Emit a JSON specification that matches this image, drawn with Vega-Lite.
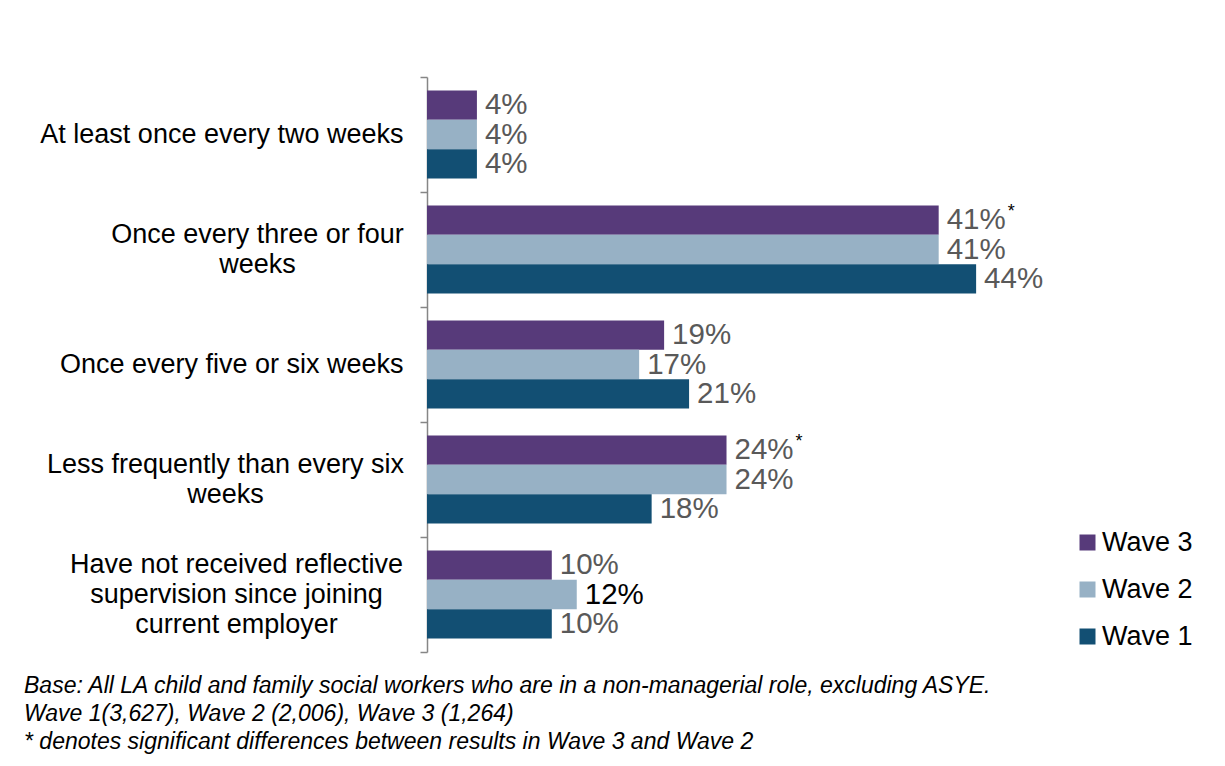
{
  "$schema": "https://vega.github.io/schema/vega-lite/v6.json",
  "autosize": {"type": "none"},
  "padding": {"left": 427, "top": 77, "right": 174, "bottom": 114},
  "width": 624,
  "height": 575,
  "background": "white",
  "config": {"font": "Liberation Sans", "view": {"stroke": null}},
  "title": {
    "text": ["Base: All LA child and family social workers who are in a non-managerial role, excluding ASYE.", "Wave 1(3,627), Wave 2 (2,006), Wave 3 (1,264)", "* denotes significant differences between results in Wave 3 and Wave 2"],
    "orient": "bottom", "anchor": "start", "frame": "group", "dx": -403, "offset": 22,
    "font": "Liberation Sans", "fontStyle": "italic", "fontWeight": "normal", "fontSize": 23, "lineHeight": 28, "color": "black", "baseline": "top"
  },
  "data": {"values": [
    {"category": "At least once every two weeks", "wave": "Wave 3", "value": 0.04, "sig": false},
    {"category": "At least once every two weeks", "wave": "Wave 2", "value": 0.04, "sig": false},
    {"category": "At least once every two weeks", "wave": "Wave 1", "value": 0.04, "sig": false},
    {"category": "Once every three or four weeks", "wave": "Wave 3", "value": 0.41, "sig": true},
    {"category": "Once every three or four weeks", "wave": "Wave 2", "value": 0.41, "sig": false},
    {"category": "Once every three or four weeks", "wave": "Wave 1", "value": 0.44, "sig": false},
    {"category": "Once every five or six weeks", "wave": "Wave 3", "value": 0.19, "sig": false},
    {"category": "Once every five or six weeks", "wave": "Wave 2", "value": 0.17, "sig": false},
    {"category": "Once every five or six weeks", "wave": "Wave 1", "value": 0.21, "sig": false},
    {"category": "Less frequently than every six weeks", "wave": "Wave 3", "value": 0.24, "sig": true},
    {"category": "Less frequently than every six weeks", "wave": "Wave 2", "value": 0.24, "sig": false},
    {"category": "Less frequently than every six weeks", "wave": "Wave 1", "value": 0.18, "sig": false},
    {"category": "Have not received reflective supervision since joining current employer", "wave": "Wave 3", "value": 0.10, "sig": false},
    {"category": "Have not received reflective supervision since joining current employer", "wave": "Wave 2", "value": 0.12, "sig": false},
    {"category": "Have not received reflective supervision since joining current employer", "wave": "Wave 1", "value": 0.10, "sig": false}
  ]},
  "encoding": {
    "y": {
      "field": "category", "type": "nominal", "sort": null, "title": null,
      "scale": {"paddingInner": 0, "paddingOuter": 0},
      "axis": {
        "tickBand": "extent", "domainColor": "#868686", "tickColor": "#868686", "domainWidth": 1.5, "tickWidth": 1.5,
        "tickSize": 7, "labelFontSize": 27, "labelColor": "black", "labelLimit": 600,
        "labelLineHeight": 30,
        "labelAlign": {"condition": {"test": "datum.value == 'Once every three or four weeks' || datum.value == 'Less frequently than every six weeks' || datum.value == 'Have not received reflective supervision since joining current employer'", "value": "center"}, "value": "right"},
        "labelPadding": {"condition": [
          {"test": "datum.value == 'Once every three or four weeks'", "value": 163},
          {"test": "datum.value == 'Less frequently than every six weeks'", "value": 195},
          {"test": "datum.value == 'Have not received reflective supervision since joining current employer'", "value": 184}
        ], "value": 17},
        "labelOffset": {"condition": [
          {"test": "datum.value == 'Have not received reflective supervision since joining current employer'", "value": -30},
          {"test": "datum.value == 'Once every three or four weeks' || datum.value == 'Less frequently than every six weeks'", "value": -15}
        ], "value": 0},
        "labelExpr": "datum.value == 'Once every three or four weeks' ? ['Once every three or four', 'weeks'] : datum.value == 'Less frequently than every six weeks' ? ['Less frequently than every six', 'weeks'] : datum.value == 'Have not received reflective supervision since joining current employer' ? ['Have not received reflective', 'supervision since joining', 'current employer'] : datum.value"
      }
    },
    "yOffset": {
      "field": "wave", "type": "nominal", "sort": ["Wave 3", "Wave 2", "Wave 1"],
      "scale": {"paddingInner": 0, "paddingOuter": 0.4625}
    },
    "x": {
      "field": "value", "type": "quantitative", "axis": null,
      "scale": {"domain": [0, 0.5], "nice": false}
    }
  },
  "layer": [
    {
      "mark": {"type": "bar"},
      "encoding": {
        "color": {
          "field": "wave", "type": "nominal", "title": null,
          "scale": {"domain": ["Wave 3", "Wave 2", "Wave 1"], "range": ["#573A7A", "#97B1C5", "#124F73"]},
          "legend": {
            "orient": "none", "legendX": 647, "legendY": 452, "symbolType": "square", "symbolSize": 256,
            "symbolStrokeWidth": 0, "labelFontSize": 27, "labelColor": "black", "labelOffset": 1, "rowPadding": 19,
            "labelFont": "Liberation Sans"
          }
        }
      }
    },
    {
      "mark": {"type": "text", "align": "left", "baseline": "middle", "dx": 8, "fontSize": 29.5},
      "encoding": {
        "text": {"field": "value", "type": "quantitative", "format": ".0%"},
        "color": {
          "condition": {"test": "datum.wave == 'Wave 2' && datum.category == 'Have not received reflective supervision since joining current employer'", "value": "black"},
          "value": "#595959"
        }
      }
    },
    {
      "transform": [{"filter": "datum.sig"}],
      "mark": {"type": "text", "align": "left", "baseline": "middle", "dx": 69, "dy": -8, "fontSize": 18, "color": "black"},
      "encoding": {"text": {"value": "*"}}
    }
  ]
}
